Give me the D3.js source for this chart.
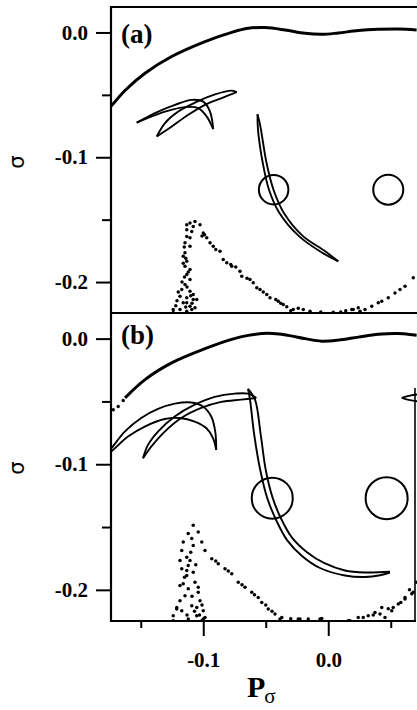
<!DOCTYPE html>
<html><head><meta charset="utf-8">
<script src="https://cdn.jsdelivr.net/npm/d3@7"></script>
<style>html,body{margin:0;padding:0;background:#fff;} svg{display:block;}</style>
</head><body>
<script>
// ---------- axes / labels ----------
const xDomain = [-0.1738, 0.0694];
const yDomain = [0.0204, -0.2248];
const yTicks = [0.0, -0.1, -0.2];
const yTickLabels = ["0.0", "-0.1", "-0.2"];
const yMinor = [-0.05, -0.15];
const xTicks = [-0.1, 0.0];
const xTickLabels = ["-0.1", "0.0"];
const xMinor = [-0.15, -0.05, 0.05];
const panelLabels = ["(a)", "(b)"];
const yLabel = "σ";
const xLabelMain = "P";
const xLabelSub = "σ";

// ---------- panel (a) ----------
const topCurveA = [[-0.1760,-0.0610],[-0.1733,-0.0585],[-0.1626,-0.0465],[-0.1466,-0.0327],[-0.1253,-0.0193],[-0.0986,-0.0073],[-0.0772,0.0001],[-0.0640,0.0033],[-0.0506,0.0039],[-0.0346,0.0020],[-0.0186,-0.0007],[-0.0052,-0.0015],[0.0080,-0.0004],[0.0240,0.0015],[0.0400,0.0025],[0.0560,0.0028],[0.0707,0.0020]];
const crescPaOuter = [[-0.1532,-0.0722],[-0.1360,-0.0634],[-0.1226,-0.0580],[-0.1092,-0.0540],[-0.1000,-0.0554],[-0.0946,-0.0634],[-0.0920,-0.0774]];
const crescPaInner = [[-0.1532,-0.0722],[-0.1466,-0.0694],[-0.1306,-0.0634],[-0.1146,-0.0598],[-0.1040,-0.0606],[-0.0972,-0.0674],[-0.0920,-0.0774]];
const crescQaUpper = [[-0.1372,-0.0834],[-0.1306,-0.0726],[-0.1200,-0.0634],[-0.1066,-0.0562],[-0.0906,-0.0496],[-0.0772,-0.0466],[-0.0732,-0.0478]];
const crescQaLower = [[-0.1372,-0.0834],[-0.1252,-0.0754],[-0.1120,-0.0660],[-0.0986,-0.0580],[-0.0852,-0.0526],[-0.0732,-0.0478]];
const tongueAL = [[-0.0566,-0.0656],[-0.0562,-0.0780],[-0.0524,-0.1044],[-0.0474,-0.1260],[-0.0392,-0.1444],[-0.0232,-0.1634],[-0.0050,-0.1764],[0.0080,-0.1834]];
const tongueAR = [[-0.0566,-0.0656],[-0.0550,-0.0720],[-0.0538,-0.0780],[-0.0494,-0.1044],[-0.0438,-0.1260],[-0.0356,-0.1444],[-0.0204,-0.1630],[-0.0030,-0.1750],[0.0080,-0.1834]];
const circlesA = [[-0.0437,-0.1260,0.0118],[0.0480,-0.1260,0.0120]];
const dotsA = [[-0.1066,-0.1514],[-0.1106,-0.1526],[-0.1132,-0.1540],[-0.1026,-0.1540],[-0.1080,-0.1554],[-0.1132,-0.1580],[-0.1092,-0.1594],[-0.1000,-0.1606],[-0.1132,-0.1634],[-0.1106,-0.1646],[-0.0972,-0.1646],[-0.1146,-0.1686],[-0.0946,-0.1686],[-0.1106,-0.1714],[-0.0920,-0.1714],[-0.1146,-0.1766],[-0.0866,-0.1754],[-0.1160,-0.1794],[-0.0840,-0.1820],[-0.1132,-0.1834],[-0.1146,-0.1874],[-0.0812,-0.1846],[-0.0772,-0.1874],[-0.1106,-0.1900],[-0.0706,-0.1914],[-0.1132,-0.1940],[-0.0692,-0.1954],[-0.1106,-0.1980],[-0.0626,-0.1980],[-0.0600,-0.2006],[-0.1146,-0.2020],[-0.0572,-0.2046],[-0.0546,-0.2060],[-0.1172,-0.2060],[-0.1106,-0.2074],[-0.0492,-0.2100],[-0.1080,-0.2100],[-0.1186,-0.2114],[-0.1132,-0.2126],[-0.0466,-0.2126],[-0.1080,-0.2140],[-0.0400,-0.2154],[-0.1160,-0.2166],[-0.0360,-0.2180],[-0.1106,-0.2194],[-0.0332,-0.2198],[-0.1066,-0.2206],[-0.1240,-0.2220],[-0.1186,-0.2220],[-0.0280,-0.2220],[-0.1132,-0.2234],[-0.0200,-0.2220],[-0.0146,-0.2234],[0.0040,-0.2242],[0.0200,-0.2220],[0.0254,-0.2234],[0.0188,-0.2220],[0.0240,-0.2206],[0.0400,-0.2166],[0.0428,-0.2154],[0.0480,-0.2126],[0.0534,-0.2087],[0.0574,-0.2060],[0.0614,-0.2034],[0.0680,-0.1966],[0.0348,-0.2194],[0.0294,-0.2220],[-0.1240,-0.2244],[-0.1132,-0.2166],[-0.1092,-0.2220],[-0.1052,-0.2140],[-0.1152,-0.1720],[-0.1140,-0.1810],[-0.1160,-0.1850],[-0.1120,-0.1920],[-0.1150,-0.1960],[-0.1170,-0.2000],[-0.1130,-0.2040],[-0.1200,-0.2080],[-0.1100,-0.2110],[-0.1210,-0.2150],[-0.1140,-0.2200],[-0.1220,-0.2190],[-0.1090,-0.2170],[-0.1010,-0.1630],[-0.0990,-0.1620],[-0.0900,-0.1740],[-0.0780,-0.1860],[-0.0740,-0.1880],[-0.0650,-0.1970],[-0.0520,-0.2080],[-0.0420,-0.2140],[-0.0380,-0.2170],[-0.0240,-0.2210],[-0.0300,-0.2230],[-0.0060,-0.2240],[0.0100,-0.2240],[0.0140,-0.2230]];

// ---------- panel (b) ----------
const topDotsB = [[-0.1720,-0.0566],[-0.1680,-0.0540],[-0.1640,-0.0492]];
const topCurveB = [[-0.1626,-0.0472],[-0.1466,-0.0326],[-0.1253,-0.0193],[-0.0986,-0.0080],[-0.0772,-0.0006],[-0.0640,0.0026],[-0.0480,0.0042],[-0.0320,0.0026],[-0.0186,0.0000],[-0.0052,-0.0020],[0.0080,-0.0012],[0.0240,0.0012],[0.0400,0.0034],[0.0560,0.0040],[0.0707,0.0026]];
const crescPbOuter = [[-0.1786,-0.0926],[-0.1738,-0.0876],[-0.1628,-0.0740],[-0.1496,-0.0632],[-0.1362,-0.0560],[-0.1228,-0.0518],[-0.1096,-0.0508],[-0.1002,-0.0540],[-0.0936,-0.0620],[-0.0904,-0.0740],[-0.0896,-0.0886]];
const crescPbInner = [[-0.1786,-0.0934],[-0.1738,-0.0900],[-0.1602,-0.0780],[-0.1468,-0.0700],[-0.1308,-0.0640],[-0.1188,-0.0632],[-0.1068,-0.0660],[-0.0976,-0.0712],[-0.0922,-0.0792],[-0.0896,-0.0886]];
const crescQbUpper = [[-0.1482,-0.0952],[-0.1442,-0.0846],[-0.1362,-0.0740],[-0.1228,-0.0620],[-0.1068,-0.0526],[-0.0908,-0.0464],[-0.0748,-0.0438],[-0.0642,-0.0438],[-0.0576,-0.0472]];
const crescQbLower = [[-0.1482,-0.0952],[-0.1416,-0.0860],[-0.1308,-0.0740],[-0.1176,-0.0632],[-0.1016,-0.0552],[-0.0856,-0.0504],[-0.0696,-0.0486],[-0.0576,-0.0472]];
const lensBUpper = [[0.0588,-0.0472],[0.0654,-0.0454],[0.0720,-0.0444]];
const lensBLower = [[0.0588,-0.0472],[0.0654,-0.0490],[0.0720,-0.0500]];
const tongueBL = [[-0.0642,-0.0400],[-0.0626,-0.0486],[-0.0592,-0.0766],[-0.0544,-0.1046],[-0.0488,-0.1270],[-0.0416,-0.1446],[-0.0328,-0.1606],[-0.0210,-0.1730],[-0.0066,-0.1826],[0.0134,-0.1886],[0.0294,-0.1898],[0.0414,-0.1884],[0.0494,-0.1862]];
const tongueBR = [[-0.0642,-0.0400],[-0.0586,-0.0486],[-0.0540,-0.0766],[-0.0500,-0.1046],[-0.0444,-0.1270],[-0.0378,-0.1432],[-0.0290,-0.1584],[-0.0170,-0.1700],[-0.0030,-0.1788],[0.0134,-0.1846],[0.0294,-0.1862],[0.0494,-0.1856]];
const circlesB = [[-0.0448,-0.1270,0.0164],[0.0467,-0.1270,0.0168]];
const dotsB = [[-0.1080,-0.1486],[-0.1120,-0.1552],[-0.1040,-0.1540],[-0.1160,-0.1620],[-0.1092,-0.1592],[-0.1012,-0.1620],[-0.1172,-0.1686],[-0.1080,-0.1646],[-0.0986,-0.1686],[-0.1132,-0.1740],[-0.1186,-0.1766],[-0.0932,-0.1752],[-0.1120,-0.1806],[-0.0880,-0.1792],[-0.1172,-0.1832],[-0.1080,-0.1860],[-0.0826,-0.1832],[-0.1132,-0.1886],[-0.0772,-0.1872],[-0.1066,-0.1940],[-0.1186,-0.1966],[-0.0720,-0.1940],[-0.1120,-0.1992],[-0.0666,-0.1980],[-0.1040,-0.2020],[-0.0612,-0.2020],[-0.1146,-0.2046],[-0.0560,-0.2060],[-0.1026,-0.2086],[-0.0532,-0.2100],[-0.1212,-0.2140],[-0.1092,-0.2126],[-0.0480,-0.2152],[-0.1000,-0.2166],[-0.1172,-0.2166],[-0.0426,-0.2192],[-0.1240,-0.2206],[-0.1052,-0.2206],[-0.0986,-0.2220],[-0.0372,-0.2220],[-0.1120,-0.2232],[-0.1012,-0.2246],[-0.0240,-0.2232],[-0.0160,-0.2232],[-0.0052,-0.2228],[0.0160,-0.2246],[0.0240,-0.2220],[0.0320,-0.2206],[0.0374,-0.2180],[0.0428,-0.2140],[0.0508,-0.2166],[0.0560,-0.2112],[0.0614,-0.2072],[0.0668,-0.2032],[0.0708,-0.1940],[0.0454,-0.2220],[-0.1240,-0.2246],[-0.1212,-0.2152],[-0.1186,-0.2086],[-0.1160,-0.1952],[-0.1132,-0.1846],[-0.1106,-0.1766],[-0.1052,-0.2140],[-0.1000,-0.2232],[-0.0386,-0.2232],[-0.0226,-0.2232],[-0.0066,-0.2232],[0.0174,-0.2246],[0.0280,-0.2220],[0.0414,-0.2192],[0.0520,-0.2140],[0.0614,-0.2060],[0.0680,-0.2020],[-0.1100,-0.1700],[-0.1060,-0.1800],[-0.1150,-0.1900],[-0.1040,-0.1980],[-0.1090,-0.2050],[-0.1010,-0.2120],[-0.1130,-0.2200],[-0.1070,-0.2170],[-0.1030,-0.2200],[-0.0900,-0.1770],[-0.0800,-0.1850],[-0.0690,-0.1960],[-0.0590,-0.2040],[-0.0500,-0.2120],[-0.0450,-0.2170],[-0.0300,-0.2230],[0.0360,-0.2200],[0.0480,-0.2150],[0.0580,-0.2100],[0.0650,-0.2000]];

// ---------- drawing ----------
const W = 417, H = 710;
const svg = d3.select("body").append("svg").attr("width", W).attr("height", H);
const x = d3.scaleLinear().domain(xDomain).range([111, 415]);
const serif = "'Liberation Serif','Times New Roman',serif";

const panels = [
  {top: 7, bottom: 313, label: panelLabels[0], labelY: 43, sigmaY: 162,
   curve: topCurveA, dotsTop: [], shapes: [crescPaOuter, crescPaInner, crescQaUpper, crescQaLower, tongueAL, tongueAR],
   circles: circlesA, dots: dotsA},
  {top: 313, bottom: 621, label: panelLabels[1], labelY: 344, sigmaY: 468,
   curve: topCurveB, dotsTop: topDotsB, shapes: [crescPbOuter, crescPbInner, crescQbUpper, crescQbLower, lensBUpper, lensBLower, tongueBL, tongueBR],
   circles: circlesB, dots: dotsB}
];

panels.forEach((p, i) => {
  const y = d3.scaleLinear().domain(yDomain).range([p.top, p.bottom]);
  const clipId = "clip" + i;
  svg.append("clipPath").attr("id", clipId).append("rect")
    .attr("x", 111).attr("y", p.top).attr("width", 306).attr("height", p.bottom - p.top);
  const g = svg.append("g").attr("clip-path", `url(#${clipId})`);
  const line = d3.line().x(d => x(d[0])).y(d => y(d[1])).curve(d3.curveCatmullRom.alpha(0.5));

  g.append("path").attr("d", line(p.curve)).attr("fill", "none").attr("stroke", "#000").attr("stroke-width", 3);
  g.selectAll(".td").data(p.dotsTop).join("circle")
    .attr("cx", d => x(d[0])).attr("cy", d => y(d[1])).attr("r", 1.7).attr("fill", "#000");
  p.shapes.forEach(s => {
    g.append("path").attr("d", line(s)).attr("fill", "none").attr("stroke", "#000").attr("stroke-width", 1.9);
  });
  p.circles.forEach(c => {
    g.append("circle").attr("cx", x(c[0])).attr("cy", y(c[1]))
      .attr("r", x(c[0] + c[2]) - x(c[0])).attr("fill", "none").attr("stroke", "#000").attr("stroke-width", 2);
  });
  g.selectAll(".dt").data(p.dots).join("circle")
    .attr("cx", d => x(d[0])).attr("cy", d => y(d[1])).attr("r", 1.75).attr("fill", "#000");

  // y axis
  const ax = svg.append("g").attr("transform", "translate(111,0)")
    .call(d3.axisLeft(y).tickValues(yTicks).tickSize(15).tickPadding(8).tickFormat((d, k) => yTickLabels[k]));
  ax.select(".domain").remove();
  ax.selectAll("line").attr("stroke-width", 2);
  ax.selectAll("text").attr("font-family", serif).attr("font-weight", "bold").attr("font-size", 21).attr("fill", "#000");
  const axm = svg.append("g").attr("transform", "translate(111,0)")
    .call(d3.axisLeft(y).tickValues(yMinor).tickSize(9).tickFormat(""));
  axm.select(".domain").remove();
  axm.selectAll("line").attr("stroke-width", 2);

  // panel label
  svg.append("text").attr("x", 121).attr("y", p.labelY).text(p.label)
    .attr("font-family", serif).attr("font-weight", "bold").attr("font-size", 27);

  // sigma y label
  svg.append("text").attr("transform", `translate(23.5,${p.sigmaY}) rotate(-90)`)
    .attr("text-anchor", "middle").attr("font-family", "'DejaVu Sans',sans-serif").attr("font-size", 21).text(yLabel);
});

// frame
const fr = svg.append("g").attr("stroke", "#000").attr("stroke-width", 2.2).attr("fill", "none");
fr.append("line").attr("x1", 111).attr("x2", 111).attr("y1", 6).attr("y2", 622);
fr.append("line").attr("x1", 110).attr("x2", 417).attr("y1", 7).attr("y2", 7);
fr.append("line").attr("x1", 110).attr("x2", 417).attr("y1", 313).attr("y2", 313);
fr.append("line").attr("x1", 110).attr("x2", 416).attr("y1", 621).attr("y2", 621);
fr.append("line").attr("x1", 415).attr("x2", 415).attr("y1", 388).attr("y2", 622).attr("stroke-width", 1.6);

// x axis (bottom)
const yBot = 621;
const xa = svg.append("g").attr("transform", `translate(0,${yBot})`)
  .call(d3.axisBottom(x).tickValues(xTicks).tickSize(15).tickFormat((d, k) => xTickLabels[k]));
xa.select(".domain").remove();
xa.selectAll("line").attr("stroke-width", 2);
xa.selectAll("text").attr("y", 46).attr("dy", 0)
  .attr("font-family", serif).attr("font-weight", "bold").attr("font-size", 21).attr("fill", "#000");
const xam = svg.append("g").attr("transform", `translate(0,${yBot})`)
  .call(d3.axisBottom(x).tickValues(xMinor).tickSize(7).tickFormat(""));
xam.select(".domain").remove();
xam.selectAll("line").attr("stroke-width", 2);

// x label
const xl = svg.append("text").attr("x", 247).attr("y", 697).attr("font-family", serif);
xl.append("tspan").attr("font-weight", "bold").attr("font-size", 30).text(xLabelMain);
xl.append("tspan").attr("font-size", 21).attr("dx", -1).attr("dy", 6).text(xLabelSub);
</script>
</body></html>
